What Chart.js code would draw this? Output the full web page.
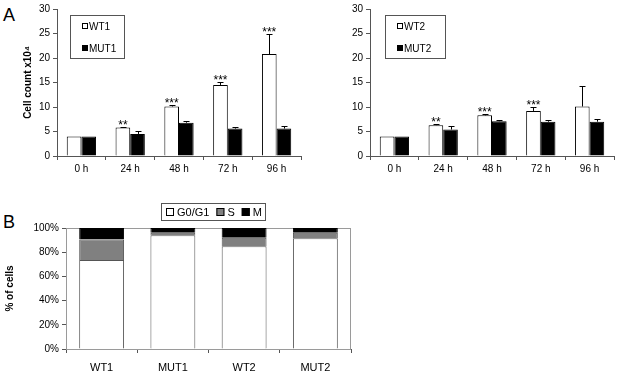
<!DOCTYPE html>
<html>
<head>
<meta charset="utf-8">
<script src="https://cdn.jsdelivr.net/npm/chart.js@4.4.0/dist/chart.umd.min.js"></script>
<style>
  body { margin: 0; background: #fff; font-family: "Liberation Sans", Arial, sans-serif; }
  #wrap { position: relative; width: 617px; height: 373px; overflow: hidden; }
  .panel { position: absolute; }
  .tag { position: absolute; font-size: 18px; color: #000; }
</style>
</head>
<body>
<div id="wrap">
  <div class="tag" style="left:3px;top:5px;">A</div>
  <div class="tag" style="left:3px;top:212px;">B</div>
  <div class="panel" style="left:0;top:0;width:310px;height:180px;"><canvas id="c1"></canvas></div>
  <div class="panel" style="left:310px;top:0;width:307px;height:180px;"><canvas id="c2"></canvas></div>
  <div class="panel" style="left:0;top:190px;width:360px;height:183px;"><canvas id="c3"></canvas></div>
</div>
<script>
// time points
const timeLabels = ["0 h", "24 h", "48 h", "72 h", "96 h"];

// panel A left
const wt1 = [4.0, 5.8, 10.1, 14.5, 20.8];
const wt1Err = [0, 0.2, 0.3, 0.6, 4.1];
const mut1 = [4.0, 4.5, 6.8, 5.6, 5.6];
const mut1Err = [0, 0.7, 0.4, 0.4, 0.5];
const wt1Stars = ["", "**", "***", "***", "***"];

// panel A right
const wt2 = [4.0, 6.3, 8.3, 9.2, 10.1];
const wt2Err = [0, 0.2, 0.3, 0.7, 4.1];
const mut2 = [4.0, 5.4, 7.1, 7.0, 7.0];
const mut2Err = [0, 0.7, 0.3, 0.4, 0.5];
const wt2Stars = ["", "**", "***", "***", ""];

// panel B
const lines = ["WT1", "MUT1", "WT2", "MUT2"];
const g0g1 = [73.5, 94, 85, 91.5];
const sPhase = [17, 2, 7, 4.5];
const mPhase = [9.5, 4, 8, 4];

const FONT = "'Liberation Sans', Arial, sans-serif";
Chart.defaults.font.family = FONT;
Chart.defaults.color = "#000";

// upper error whiskers + significance stars
const errorBars = {
  id: "errorBars",
  afterDatasetsDraw(chart, args, opts) {
    const ctx = chart.ctx;
    const y = chart.scales.y;
    chart.data.datasets.forEach((ds, i) => {
      if (!ds.errors) return;
      const meta = chart.getDatasetMeta(i);
      meta.data.forEach((bar, j) => {
        const top = y.getPixelForValue(ds.data[j] + ds.errors[j]);
        ctx.save();
        ctx.strokeStyle = "#000";
        ctx.lineWidth = 1;
        if (ds.errors[j] > 0) {
          ctx.beginPath();
          ctx.moveTo(Math.round(bar.x) + 0.5, bar.y);
          ctx.lineTo(Math.round(bar.x) + 0.5, Math.round(top) + 0.5);
          ctx.moveTo(Math.round(bar.x) - 2.5, Math.round(top) + 0.5);
          ctx.lineTo(Math.round(bar.x) + 3.5, Math.round(top) + 0.5);
          ctx.stroke();
        }
        if (ds.stars && ds.stars[j]) {
          ctx.fillStyle = "#000";
          ctx.font = "12px " + FONT;
          ctx.textAlign = "center";
          ctx.textBaseline = "alphabetic";
          ctx.fillText(ds.stars[j], bar.x, top + 2);
        }
        ctx.restore();
      });
    });
  }
};

// boxed legend drawn from the datasets
const boxLegend = {
  id: "boxLegend",
  afterDraw(chart, args, o) {
    const ctx = chart.ctx;
    ctx.save();
    ctx.strokeStyle = "#555";
    ctx.lineWidth = 1;
    ctx.strokeRect(o.x + 0.5, o.y + 0.5, o.w, o.h);
    ctx.font = o.size + "px " + FONT;
    ctx.textBaseline = "middle";
    ctx.textAlign = "left";
    let cx = o.x + o.padX;
    chart.data.datasets.forEach((ds, i) => {
      const cy = o.vertical ? o.y + o.firstY + i * o.gapY : o.y + o.h / 2;
      const px = o.vertical ? o.x + o.padX : cx;
      ctx.fillStyle = ds.backgroundColor;
      ctx.fillRect(px, Math.round(cy - o.sw / 2), o.sw, o.sw);
      ctx.strokeStyle = "#000";
      ctx.strokeRect(px + 0.5, Math.round(cy - o.sw / 2) + 0.5, o.sw - 1, o.sw - 1);
      ctx.fillStyle = "#000";
      ctx.fillText(ds.label, px + o.sw + o.gapT, cy + 1);
      cx = px + o.sw + o.gapT + ctx.measureText(ds.label).width + o.gapItem;
    });
    ctx.restore();
  }
};

const areaFrame = {
  id: "areaFrame",
  beforeDatasetsDraw(chart, args, o) {
    if (!o.show) return;
    const a = chart.chartArea;
    const ctx = chart.ctx;
    ctx.save();
    ctx.strokeStyle = "#9a9a9a";
    ctx.lineWidth = 1;
    ctx.strokeRect(a.left + 0.5, a.top + 0.5, a.right - a.left - 1, a.bottom - a.top);
    ctx.restore();
  }
};

function growthChart(id, labels, wt, wtErr, wtStars, mut, mutErr, names, yWidth, yTitle, pad, legendBox) {
  return new Chart(document.getElementById(id), {
    type: "bar",
    data: {
      labels: labels,
      datasets: [
        { label: names[0], data: wt, errors: wtErr, stars: wtStars,
          backgroundColor: "#fff", borderColor: "#000", borderWidth: 1,
          categoryPercentage: 0.6, barPercentage: 1.0 },
        { label: names[1], data: mut, errors: mutErr,
          backgroundColor: "#000", borderColor: "#000", borderWidth: 1,
          categoryPercentage: 0.6, barPercentage: 1.0 }
      ]
    },
    options: {
      responsive: true,
      maintainAspectRatio: false,
      animation: false,
      layout: { padding: pad },
      plugins: {
        legend: { display: false },
        tooltip: { enabled: false },
        boxLegend: legendBox,
        areaFrame: { show: false }
      },
      scales: {
        x: {
          grid: { display: true, drawOnChartArea: false, offset: true, tickLength: 4, color: "#555" },
          border: { color: "#555" },
          ticks: { font: { size: 10 }, padding: 3 },
          afterFit(s) { s.height = 24; }
        },
        y: {
          min: 0, max: 30,
          ticks: { stepSize: 5, font: { size: 10 }, padding: 3 },
          grid: { display: true, drawOnChartArea: false, tickLength: 4, color: "#555" },
          border: { color: "#555" },
          title: { display: !!yTitle, text: yTitle, font: { size: 10, weight: "bold" }, padding: 0 },
          afterFit(s) { s.width = yWidth; }
        }
      }
    },
    plugins: [errorBars, boxLegend, areaFrame]
  });
}

growthChart("c1", timeLabels, wt1, wt1Err, wt1Stars, mut1, mut1Err, ["WT1", "MUT1"],
  35, "Cell count x10\u2074", { left: 22, right: 9, top: 7, bottom: 0 },
  { x: 70, y: 15, w: 54, h: 43, vertical: true, padX: 12, firstY: 11, gapY: 22, sw: 6, gapT: 1, gapItem: 0, size: 10 });

growthChart("c2", timeLabels, wt2, wt2Err, wt2Stars, mut2, mut2Err, ["WT2", "MUT2"],
  30, "", { left: 30, right: 3, top: 7, bottom: 0 },
  { x: 75, y: 15, w: 60, h: 43, vertical: true, padX: 12, firstY: 11, gapY: 22, sw: 6, gapT: 1, gapItem: 0, size: 10 });

// panel B: stacked cell cycle fractions
new Chart(document.getElementById("c3"), {
  type: "bar",
  data: {
    labels: lines,
    datasets: [
      { label: "G0/G1", data: g0g1, backgroundColor: "#fff", borderColor: "#555", borderWidth: 1,
        categoryPercentage: 0.63, barPercentage: 1.0 },
      { label: "S", data: sPhase, backgroundColor: "#808080", borderColor: "#555", borderWidth: 1,
        categoryPercentage: 0.63, barPercentage: 1.0 },
      { label: "M", data: mPhase, backgroundColor: "#000", borderColor: "#000", borderWidth: 1,
        categoryPercentage: 0.63, barPercentage: 1.0 }
    ]
  },
  options: {
    responsive: true,
    maintainAspectRatio: false,
    animation: false,
    layout: { padding: { left: 4, right: 9, top: 38, bottom: 0 } },
    plugins: {
      legend: { display: false },
      tooltip: { enabled: false },
      boxLegend: { x: 161, y: 13, w: 104, h: 17, vertical: false, padX: 5, sw: 8, gapT: 3, gapItem: 7, size: 11 },
      areaFrame: { show: true }
    },
    scales: {
      x: {
        stacked: true,
        grid: { display: true, drawOnChartArea: false, offset: true, tickLength: 4, color: "#555" },
        border: { color: "#555" },
        ticks: { font: { size: 11 }, padding: 8 },
        afterFit(s) { s.height = 24; }
      },
      y: {
        stacked: true,
        min: 0, max: 100,
        ticks: { stepSize: 20, font: { size: 10 }, padding: 3, callback: v => v + "%" },
        grid: { display: true, drawOnChartArea: false, tickLength: 4, color: "#555" },
        border: { color: "#555" },
        title: { display: true, text: "% of cells", font: { size: 10, weight: "bold" }, padding: 0 },
        afterFit(s) { s.width = 62; }
      }
    }
  },
  plugins: [errorBars, boxLegend, areaFrame]
});
</script>
</body>
</html>
